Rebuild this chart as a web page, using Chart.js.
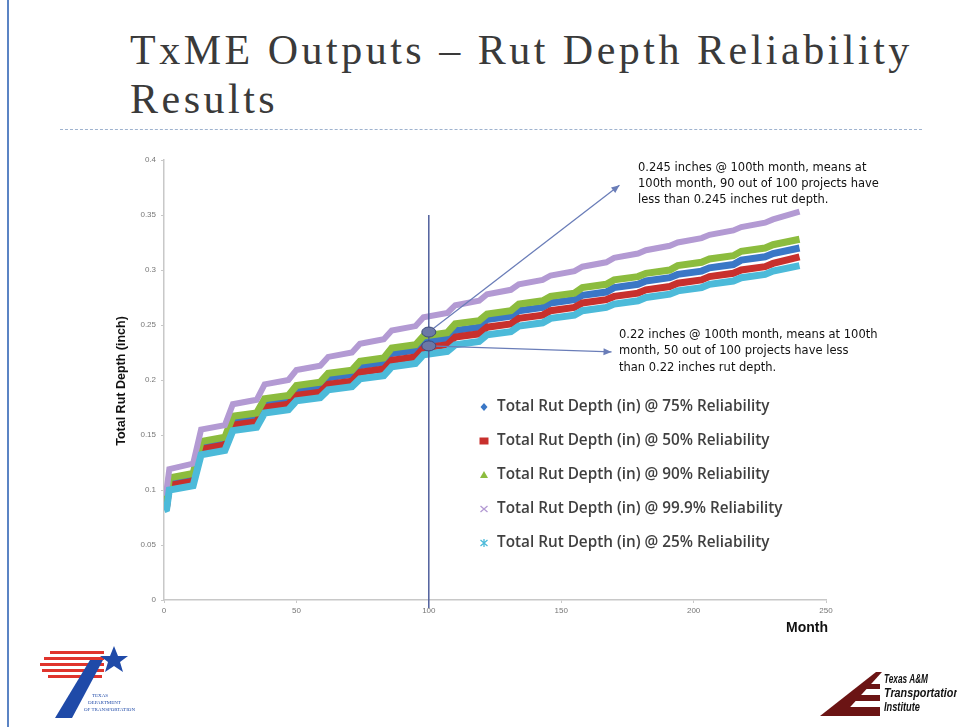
<!DOCTYPE html>
<html>
<head>
<meta charset="utf-8">
<script src="https://cdn.jsdelivr.net/npm/chart.js@4/dist/chart.umd.min.js"></script>
<style>
html,body{margin:0;padding:0;background:#fff;}
#wrap{position:relative;width:957px;height:727px;overflow:hidden;background:#fff;}
#c{position:absolute;left:0;top:0;}
.title{position:absolute;left:130px;font-family:"Liberation Serif","DejaVu Serif",serif;font-size:42px;color:#3a3a3a;letter-spacing:3.5px;white-space:nowrap;}
#dash{position:absolute;left:60px;top:129px;width:862px;height:0;border-top:1.5px dashed #9fb3cf;}
#lborder{position:absolute;left:7px;top:0;width:2px;height:727px;background:#5b84c4;}
</style>
</head>
<body>
<div id="wrap">
<div id="lborder"></div>
<div class="title" style="top:26px;">TxME Outputs – Rut Depth Reliability</div>
<div class="title" style="top:75px;">Results</div>
<div id="dash"></div>
<canvas id="c" width="957" height="727"></canvas>
<svg style="position:absolute;left:0;top:630px;" width="957" height="97" viewBox="0 630 957 97">
  <!-- TxDOT logo -->
  <g>
    <rect x="50" y="651" width="54" height="3" fill="#e0342c"/>
    <rect x="44" y="657" width="60" height="3" fill="#e0342c"/>
    <rect x="40" y="663" width="64" height="3" fill="#e0342c"/>
    <rect x="42" y="669" width="62" height="3" fill="#e0342c"/>
    <rect x="48" y="675" width="54" height="3" fill="#e0342c"/>
    <polygon points="90,660 103,660 72,718 55,718" fill="#1f4aa8"/>
    <polygon points="114,646 118,656 128,656 120,662 123,672 114,666 105,672 108,662 100,656 110,656" fill="#1f4aa8"/>
    <text x="92" y="697" font-family="Liberation Serif,serif" font-size="5" fill="#1f4aa8">TEXAS</text>
    <text x="88" y="704" font-family="Liberation Serif,serif" font-size="5" fill="#1f4aa8">DEPARTMENT</text>
    <text x="84" y="711" font-family="Liberation Serif,serif" font-size="5" fill="#1f4aa8">OF TRANSPORTATION</text>
  </g>
  <!-- TTI logo -->
  <g>
    <polygon points="876,672 882,672 842,716 820,716" fill="#6b1414"/>
    <polygon points="868,684 880,684 880,689 864,689" fill="#6b1414"/>
    <polygon points="858,695 880,695 880,701 852,701" fill="#6b1414"/>
    <polygon points="846,707 880,707 880,716 836,716" fill="#6b1414"/>
    <text x="884" y="683" font-family="Liberation Sans Narrow,Liberation Sans,sans-serif" font-style="italic" font-weight="bold" font-size="12" fill="#111" textLength="44" lengthAdjust="spacingAndGlyphs">Texas A&amp;M</text>
    <text x="884" y="697" font-family="Liberation Sans Narrow,Liberation Sans,sans-serif" font-style="italic" font-weight="bold" font-size="12" fill="#111" textLength="76" lengthAdjust="spacingAndGlyphs">Transportation</text>
    <text x="884" y="711" font-family="Liberation Sans Narrow,Liberation Sans,sans-serif" font-style="italic" font-weight="bold" font-size="12" fill="#111" textLength="36" lengthAdjust="spacingAndGlyphs">Institute</text>
  </g>
</svg>
</div>
<script>
// ---- data ----
const months = [0,1, 2,11, 14,23, 26,35, 38,47, 50,59, 62,71, 74,83, 86,95, 98,107, 110,119, 122,131, 134,143, 146,155, 158,167, 170,179, 182,191, 194,203, 206,215, 218,227, 230,240];

const rel75 = [0.085,0.086, 0.108,0.112, 0.141,0.145, 0.164,0.167, 0.180,0.183, 0.191,0.194, 0.202,0.205, 0.213,0.216, 0.224,0.227, 0.235,0.238, 0.245,0.248, 0.255,0.258, 0.263,0.266, 0.270,0.273, 0.277,0.280, 0.284,0.287, 0.290,0.293, 0.296,0.299, 0.302,0.305, 0.309,0.312, 0.315,0.320];
const rel50 = [0.084,0.085, 0.104,0.108, 0.137,0.141, 0.159,0.162, 0.175,0.178, 0.186,0.189, 0.196,0.199, 0.207,0.210, 0.218,0.221, 0.229,0.232, 0.239,0.242, 0.248,0.251, 0.256,0.259, 0.263,0.266, 0.270,0.273, 0.276,0.279, 0.282,0.285, 0.288,0.291, 0.294,0.297, 0.300,0.303, 0.306,0.312];
const rel90 = [0.088,0.089, 0.111,0.115, 0.144,0.148, 0.167,0.170, 0.183,0.186, 0.195,0.198, 0.206,0.209, 0.217,0.220, 0.229,0.232, 0.240,0.243, 0.251,0.254, 0.260,0.263, 0.269,0.272, 0.276,0.279, 0.284,0.287, 0.291,0.294, 0.297,0.300, 0.304,0.307, 0.310,0.313, 0.317,0.320, 0.323,0.328];
const rel999 = [0.095,0.100, 0.119,0.124, 0.155,0.159, 0.178,0.182, 0.196,0.200, 0.209,0.213, 0.221,0.225, 0.233,0.237, 0.245,0.249, 0.257,0.261, 0.268,0.272, 0.278,0.282, 0.287,0.291, 0.295,0.299, 0.303,0.307, 0.311,0.315, 0.318,0.322, 0.325,0.329, 0.332,0.336, 0.339,0.343, 0.346,0.353];
const rel25 = [0.082,0.083, 0.100,0.104, 0.132,0.136, 0.154,0.157, 0.170,0.173, 0.181,0.184, 0.191,0.194, 0.201,0.204, 0.212,0.215, 0.223,0.226, 0.232,0.235, 0.241,0.244, 0.249,0.252, 0.256,0.259, 0.263,0.266, 0.269,0.272, 0.275,0.278, 0.281,0.284, 0.287,0.290, 0.293,0.296, 0.299,0.304];

const seriesLabels = [
  'Total Rut Depth (in) @ 75% Reliability',
  'Total Rut Depth (in) @ 50% Reliability',
  'Total Rut Depth (in) @ 90% Reliability',
  'Total Rut Depth (in) @ 99.9% Reliability',
  'Total Rut Depth (in) @ 25% Reliability'
];
const yTicks = [0,0.05,0.1,0.15,0.2,0.25,0.3,0.35,0.4];
const xTicks = [0,50,100,150,200,250];

// annotation values
const markMonth = 100;
const mark90 = 0.2436;
const mark50 = 0.231;
const note90 = ['0.245 inches @ 100th month, means at','100th month, 90 out of 100 projects have','less than 0.245 inches rut depth.'];
const note50 = ['0.22 inches @ 100th month, means at 100th','month, 50 out of 100 projects have less','than 0.22 inches rut depth.'];

// ---- build ----
const colors = ['#3a77c6','#c8302d','#8cbc3e','#b39ad3','#4cbad9'];
const styles = ['rectRot','rect','triangle','cross','star'];
const all = [rel75, rel50, rel90, rel999, rel25];
const orders = [5,4,3,2,1];

const datasets = all.map((vals,i)=>({
  label: seriesLabels[i],
  data: months.map((m,j)=>({x:m, y:vals[j]})),
  borderColor: colors[i],
  backgroundColor: colors[i],
  borderWidth: i===3 ? 6 : 7,
  pointRadius: 0,
  tension: 0,
  fill: false,
  order: orders[i],
  pointStyle: styles[i]
}));

function drawMarker(ctx, style, x, y, color){
  ctx.save();
  ctx.fillStyle = color; ctx.strokeStyle = color; ctx.lineWidth = 1.3;
  ctx.beginPath();
  if (style==='rectRot'){ ctx.moveTo(x,y-4); ctx.lineTo(x+3.5,y); ctx.lineTo(x,y+4); ctx.lineTo(x-3.5,y); ctx.closePath(); ctx.fill(); }
  else if (style==='rect'){ ctx.rect(x-4.5,y-3.5,9,7); ctx.fill(); }
  else if (style==='triangle'){ ctx.moveTo(x,y-4); ctx.lineTo(x+4,y+3); ctx.lineTo(x-4,y+3); ctx.closePath(); ctx.fill(); }
  else if (style==='cross'){ ctx.moveTo(x-3.5,y-3); ctx.lineTo(x+3.5,y+3); ctx.moveTo(x+3.5,y-3); ctx.lineTo(x-3.5,y+3); ctx.stroke(); }
  else { ctx.moveTo(x-3.5,y-3); ctx.lineTo(x+3.5,y+3); ctx.moveTo(x+3.5,y-3); ctx.lineTo(x-3.5,y+3); ctx.moveTo(x,y-4); ctx.lineTo(x,y+4); ctx.stroke(); }
  ctx.restore();
}

function arrow(ctx, x1,y1,x2,y2,color){
  ctx.save();
  ctx.strokeStyle=color; ctx.fillStyle=color; ctx.lineWidth=1.3;
  ctx.beginPath(); ctx.moveTo(x1,y1); ctx.lineTo(x2,y2); ctx.stroke();
  const a=Math.atan2(y2-y1,x2-x1), L=8, W=3.5;
  ctx.beginPath();
  ctx.moveTo(x2,y2);
  ctx.lineTo(x2-L*Math.cos(a)+W*Math.sin(a), y2-L*Math.sin(a)-W*Math.cos(a));
  ctx.lineTo(x2-L*Math.cos(a)-W*Math.sin(a), y2-L*Math.sin(a)+W*Math.cos(a));
  ctx.closePath(); ctx.fill();
  ctx.restore();
}

const overlay = {
  id:'overlay',
  afterDatasetsDraw(chart){
    const ctx = chart.ctx, xs = chart.scales.x, ys = chart.scales.y;
    const px = xs.getPixelForValue(markMonth);
    // vertical line
    ctx.save();
    ctx.strokeStyle='#4f5f9c'; ctx.lineWidth=1.5;
    ctx.beginPath(); ctx.moveTo(px, ys.getPixelForValue(0.35)); ctx.lineTo(px, ys.bottom+8); ctx.stroke();
    ctx.restore();
    const y90 = ys.getPixelForValue(mark90), y50 = ys.getPixelForValue(mark50);
    // arrows
    arrow(ctx, px, y90, xs.getPixelForValue(172), ys.getPixelForValue(0.377), '#6a7db8');
    arrow(ctx, px, y50, xs.getPixelForValue(169), ys.getPixelForValue(0.2255), '#6a7db8');
    // ellipses
    [y90,y50].forEach(yy=>{
      ctx.save();
      ctx.fillStyle='#6b78a6'; ctx.strokeStyle='#3d4a7c'; ctx.lineWidth=1;
      ctx.beginPath(); ctx.ellipse(px, yy, 7, 5, 0, 0, Math.PI*2); ctx.fill(); ctx.stroke();
      ctx.restore();
    });
    // notes
    ctx.save();
    ctx.fillStyle='#111'; ctx.font='11.5px "DejaVu Sans", sans-serif'; ctx.textBaseline='middle'; ctx.textAlign='left';
    note90.forEach((t,i)=>ctx.fillText(t, 638, 168+i*16));
    note50.forEach((t,i)=>ctx.fillText(t, 619, 335+i*16.5));
    ctx.restore();
    // legend
    ctx.save();
    ctx.font='600 15.3px "Open Sans", sans-serif'; ctx.textBaseline='middle'; ctx.textAlign='left';
    chart.data.datasets.forEach((ds,i)=>{
      const yy = 407 + i*34;
      drawMarker(ctx, ds.pointStyle, 484, yy, ds.borderColor);
      ctx.fillStyle='#404040';
      ctx.fillText(ds.label, 497, yy);
    });
    ctx.restore();
    // axis titles
    ctx.save();
    ctx.fillStyle='#111'; ctx.font='bold 12.5px "Liberation Sans", Arial, sans-serif'; ctx.textAlign='center'; ctx.textBaseline='middle';
    ctx.translate(122, 381); ctx.rotate(-Math.PI/2); ctx.fillText('Total Rut Depth (inch)', 0, 0);
    ctx.restore();
    ctx.save();
    ctx.fillStyle='#111'; ctx.font='bold 14px "Liberation Sans", Arial, sans-serif'; ctx.textAlign='center'; ctx.textBaseline='middle';
    ctx.fillText('Month', 807, 628);
    ctx.restore();
  }
};

new Chart(document.getElementById('c'), {
  type:'line',
  data:{ datasets },
  options:{
    responsive:false, animation:false, devicePixelRatio:1,
    layout:{ padding:{ left:104, top:160, right:131, bottom:97 } },
    plugins:{ legend:{display:false}, tooltip:{enabled:false}, title:{display:false} },
    scales:{
      x:{ type:'linear', min:0, max:250,
          afterBuildTicks(s){ s.ticks = xTicks.map(v=>({value:v})); },
          afterFit(s){ s.height = 30; },
          ticks:{ font:{size:8, family:'"Liberation Sans", Arial'}, color:'#777', padding:3, maxRotation:0 },
          grid:{ display:true, drawOnChartArea:false, drawTicks:true, tickLength:3, color:'#c8c8c8' },
          border:{ display:true, color:'#c8c8c8', width:1.5 } },
      y:{ min:0, max:0.4,
          afterBuildTicks(s){ s.ticks = yTicks.map(v=>({value:v})); },
          afterFit(s){ s.width = 60; },
          ticks:{ font:{size:8, family:'"Liberation Sans", Arial'}, color:'#777', padding:5,
                  callback:(v)=>String(v) },
          grid:{ display:true, drawOnChartArea:false, drawTicks:true, tickLength:3, color:'#c8c8c8' },
          border:{ display:true, color:'#c8c8c8', width:1.5 } }
    }
  },
  plugins:[overlay]
});
</script>
</body>
</html>
